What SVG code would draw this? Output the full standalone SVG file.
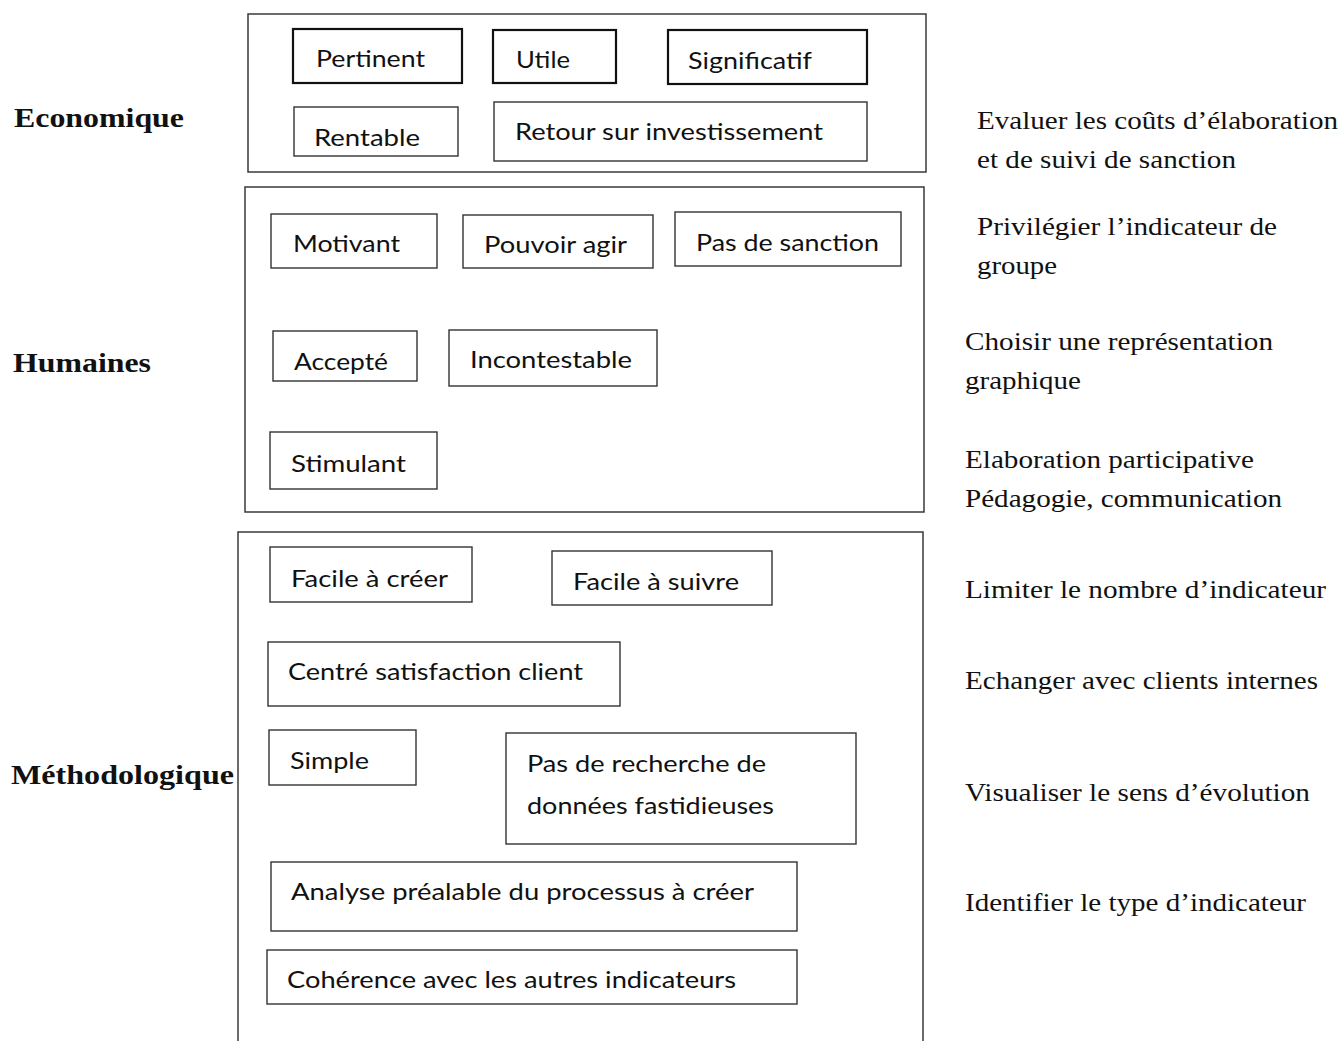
<svg xmlns="http://www.w3.org/2000/svg" width="1342" height="1041" viewBox="0 0 1342 1041">
<style>
.grp{fill:none;stroke:#3a3a3a;stroke-width:1.5}
.box{fill:#fff;stroke:#333;stroke-width:1.4}
.thick{stroke:#111;stroke-width:2.2}
.bt{font-family:Lato,"Open Sans","Liberation Sans",sans-serif;font-size:24px;fill:#111}
.rt{font-family:"Liberation Serif","Times New Roman",serif;font-size:26px;fill:#111}
.lt{font-family:"Liberation Serif","Times New Roman",serif;font-size:28px;font-weight:bold;fill:#111}
</style>
<rect width="1342" height="1041" fill="#fff"/>
<g id="groups">
<rect id="grp-eco" class="grp" x="248" y="14" width="678" height="158"/>
<rect id="grp-hum" class="grp" x="245" y="187" width="679" height="325"/>
<path id="grp-meth" class="grp" d="M238,1041 V532 H923 V1041"/>
</g>
<g id="labels">
<text class="lt" x="14" y="127" textLength="170" lengthAdjust="spacingAndGlyphs">Economique</text>
<text class="lt" x="13" y="372" textLength="138" lengthAdjust="spacingAndGlyphs">Humaines</text>
<text class="lt" x="11" y="784" textLength="223" lengthAdjust="spacingAndGlyphs">Méthodologique</text>
</g>
<g id="n-pertinent"><rect class="box thick" x="293" y="29" width="169" height="54"/><text class="bt" x="316" y="67" textLength="109" lengthAdjust="spacingAndGlyphs">Pertinent</text></g>
<g id="n-utile"><rect class="box thick" x="493" y="30" width="123" height="53"/><text class="bt" x="516" y="68" textLength="54" lengthAdjust="spacingAndGlyphs">Utile</text></g>
<g id="n-significatif"><rect class="box thick" x="668" y="30" width="199" height="54"/><text class="bt" x="688" y="69" textLength="124" lengthAdjust="spacingAndGlyphs">Significatif</text></g>
<g id="n-rentable"><rect class="box" x="294" y="107" width="164" height="49"/><text class="bt" x="314" y="146" textLength="106" lengthAdjust="spacingAndGlyphs">Rentable</text></g>
<g id="n-retour"><rect class="box" x="494" y="102" width="373" height="59"/><text class="bt" x="515" y="140" textLength="308" lengthAdjust="spacingAndGlyphs">Retour sur investissement</text></g>
<g id="n-motivant"><rect class="box" x="271" y="214" width="166" height="54"/><text class="bt" x="293" y="252" textLength="107" lengthAdjust="spacingAndGlyphs">Motivant</text></g>
<g id="n-pouvoir"><rect class="box" x="463" y="215" width="190" height="53"/><text class="bt" x="484" y="253" textLength="143" lengthAdjust="spacingAndGlyphs">Pouvoir agir</text></g>
<g id="n-sanction"><rect class="box" x="675" y="212" width="226" height="54"/><text class="bt" x="696" y="251" textLength="183" lengthAdjust="spacingAndGlyphs">Pas de sanction</text></g>
<g id="n-accepte"><rect class="box" x="273" y="331" width="144" height="50"/><text class="bt" x="294" y="370" textLength="94" lengthAdjust="spacingAndGlyphs">Accepté</text></g>
<g id="n-incontestable"><rect class="box" x="449" y="330" width="208" height="56"/><text class="bt" x="470" y="368" textLength="162" lengthAdjust="spacingAndGlyphs">Incontestable</text></g>
<g id="n-stimulant"><rect class="box" x="270" y="432" width="167" height="57"/><text class="bt" x="291" y="472" textLength="115" lengthAdjust="spacingAndGlyphs">Stimulant</text></g>
<g id="n-facile-creer"><rect class="box" x="270" y="547" width="202" height="55"/><text class="bt" x="291" y="587" textLength="157" lengthAdjust="spacingAndGlyphs">Facile à créer</text></g>
<g id="n-facile-suivre"><rect class="box" x="552" y="551" width="220" height="54"/><text class="bt" x="573" y="590" textLength="166" lengthAdjust="spacingAndGlyphs">Facile à suivre</text></g>
<g id="n-centre"><rect class="box" x="268" y="642" width="352" height="64"/><text class="bt" x="288" y="680" textLength="295" lengthAdjust="spacingAndGlyphs">Centré satisfaction client</text></g>
<g id="n-simple"><rect class="box" x="269" y="730" width="147" height="55"/><text class="bt" x="290" y="769" textLength="79" lengthAdjust="spacingAndGlyphs">Simple</text></g>
<g id="n-recherche"><rect class="box" x="506" y="733" width="350" height="111"/><text class="bt" x="527" y="772" textLength="239" lengthAdjust="spacingAndGlyphs">Pas de recherche de</text><text class="bt" x="527" y="814" textLength="247" lengthAdjust="spacingAndGlyphs">données fastidieuses</text></g>
<g id="n-analyse"><rect class="box" x="271" y="862" width="526" height="69"/><text class="bt" x="291" y="900" textLength="463" lengthAdjust="spacingAndGlyphs">Analyse préalable du processus à créer</text></g>
<g id="n-coherence"><rect class="box" x="267" y="950" width="530" height="54"/><text class="bt" x="287" y="988" textLength="449" lengthAdjust="spacingAndGlyphs">Cohérence avec les autres indicateurs</text></g>
<g id="notes">
<text class="rt" x="977" y="129" textLength="361" lengthAdjust="spacingAndGlyphs">Evaluer les coûts d’élaboration</text>
<text class="rt" x="977" y="168" textLength="259" lengthAdjust="spacingAndGlyphs">et de suivi de sanction</text>
<text class="rt" x="977" y="235" textLength="300" lengthAdjust="spacingAndGlyphs">Privilégier l’indicateur de</text>
<text class="rt" x="977" y="274" textLength="80" lengthAdjust="spacingAndGlyphs">groupe</text>
<text class="rt" x="965" y="350" textLength="308" lengthAdjust="spacingAndGlyphs">Choisir une représentation</text>
<text class="rt" x="965" y="389" textLength="116" lengthAdjust="spacingAndGlyphs">graphique</text>
<text class="rt" x="965" y="468" textLength="289" lengthAdjust="spacingAndGlyphs">Elaboration participative</text>
<text class="rt" x="965" y="507" textLength="317" lengthAdjust="spacingAndGlyphs">Pédagogie, communication</text>
<text class="rt" x="965" y="598" textLength="361" lengthAdjust="spacingAndGlyphs">Limiter le nombre d’indicateur</text>
<text class="rt" x="965" y="689" textLength="353" lengthAdjust="spacingAndGlyphs">Echanger avec clients internes</text>
<text class="rt" x="965" y="801" textLength="345" lengthAdjust="spacingAndGlyphs">Visualiser le sens d’évolution</text>
<text class="rt" x="965" y="911" textLength="341" lengthAdjust="spacingAndGlyphs">Identifier le type d’indicateur</text>
</g>
<g id="connectors"></g>
</svg>
